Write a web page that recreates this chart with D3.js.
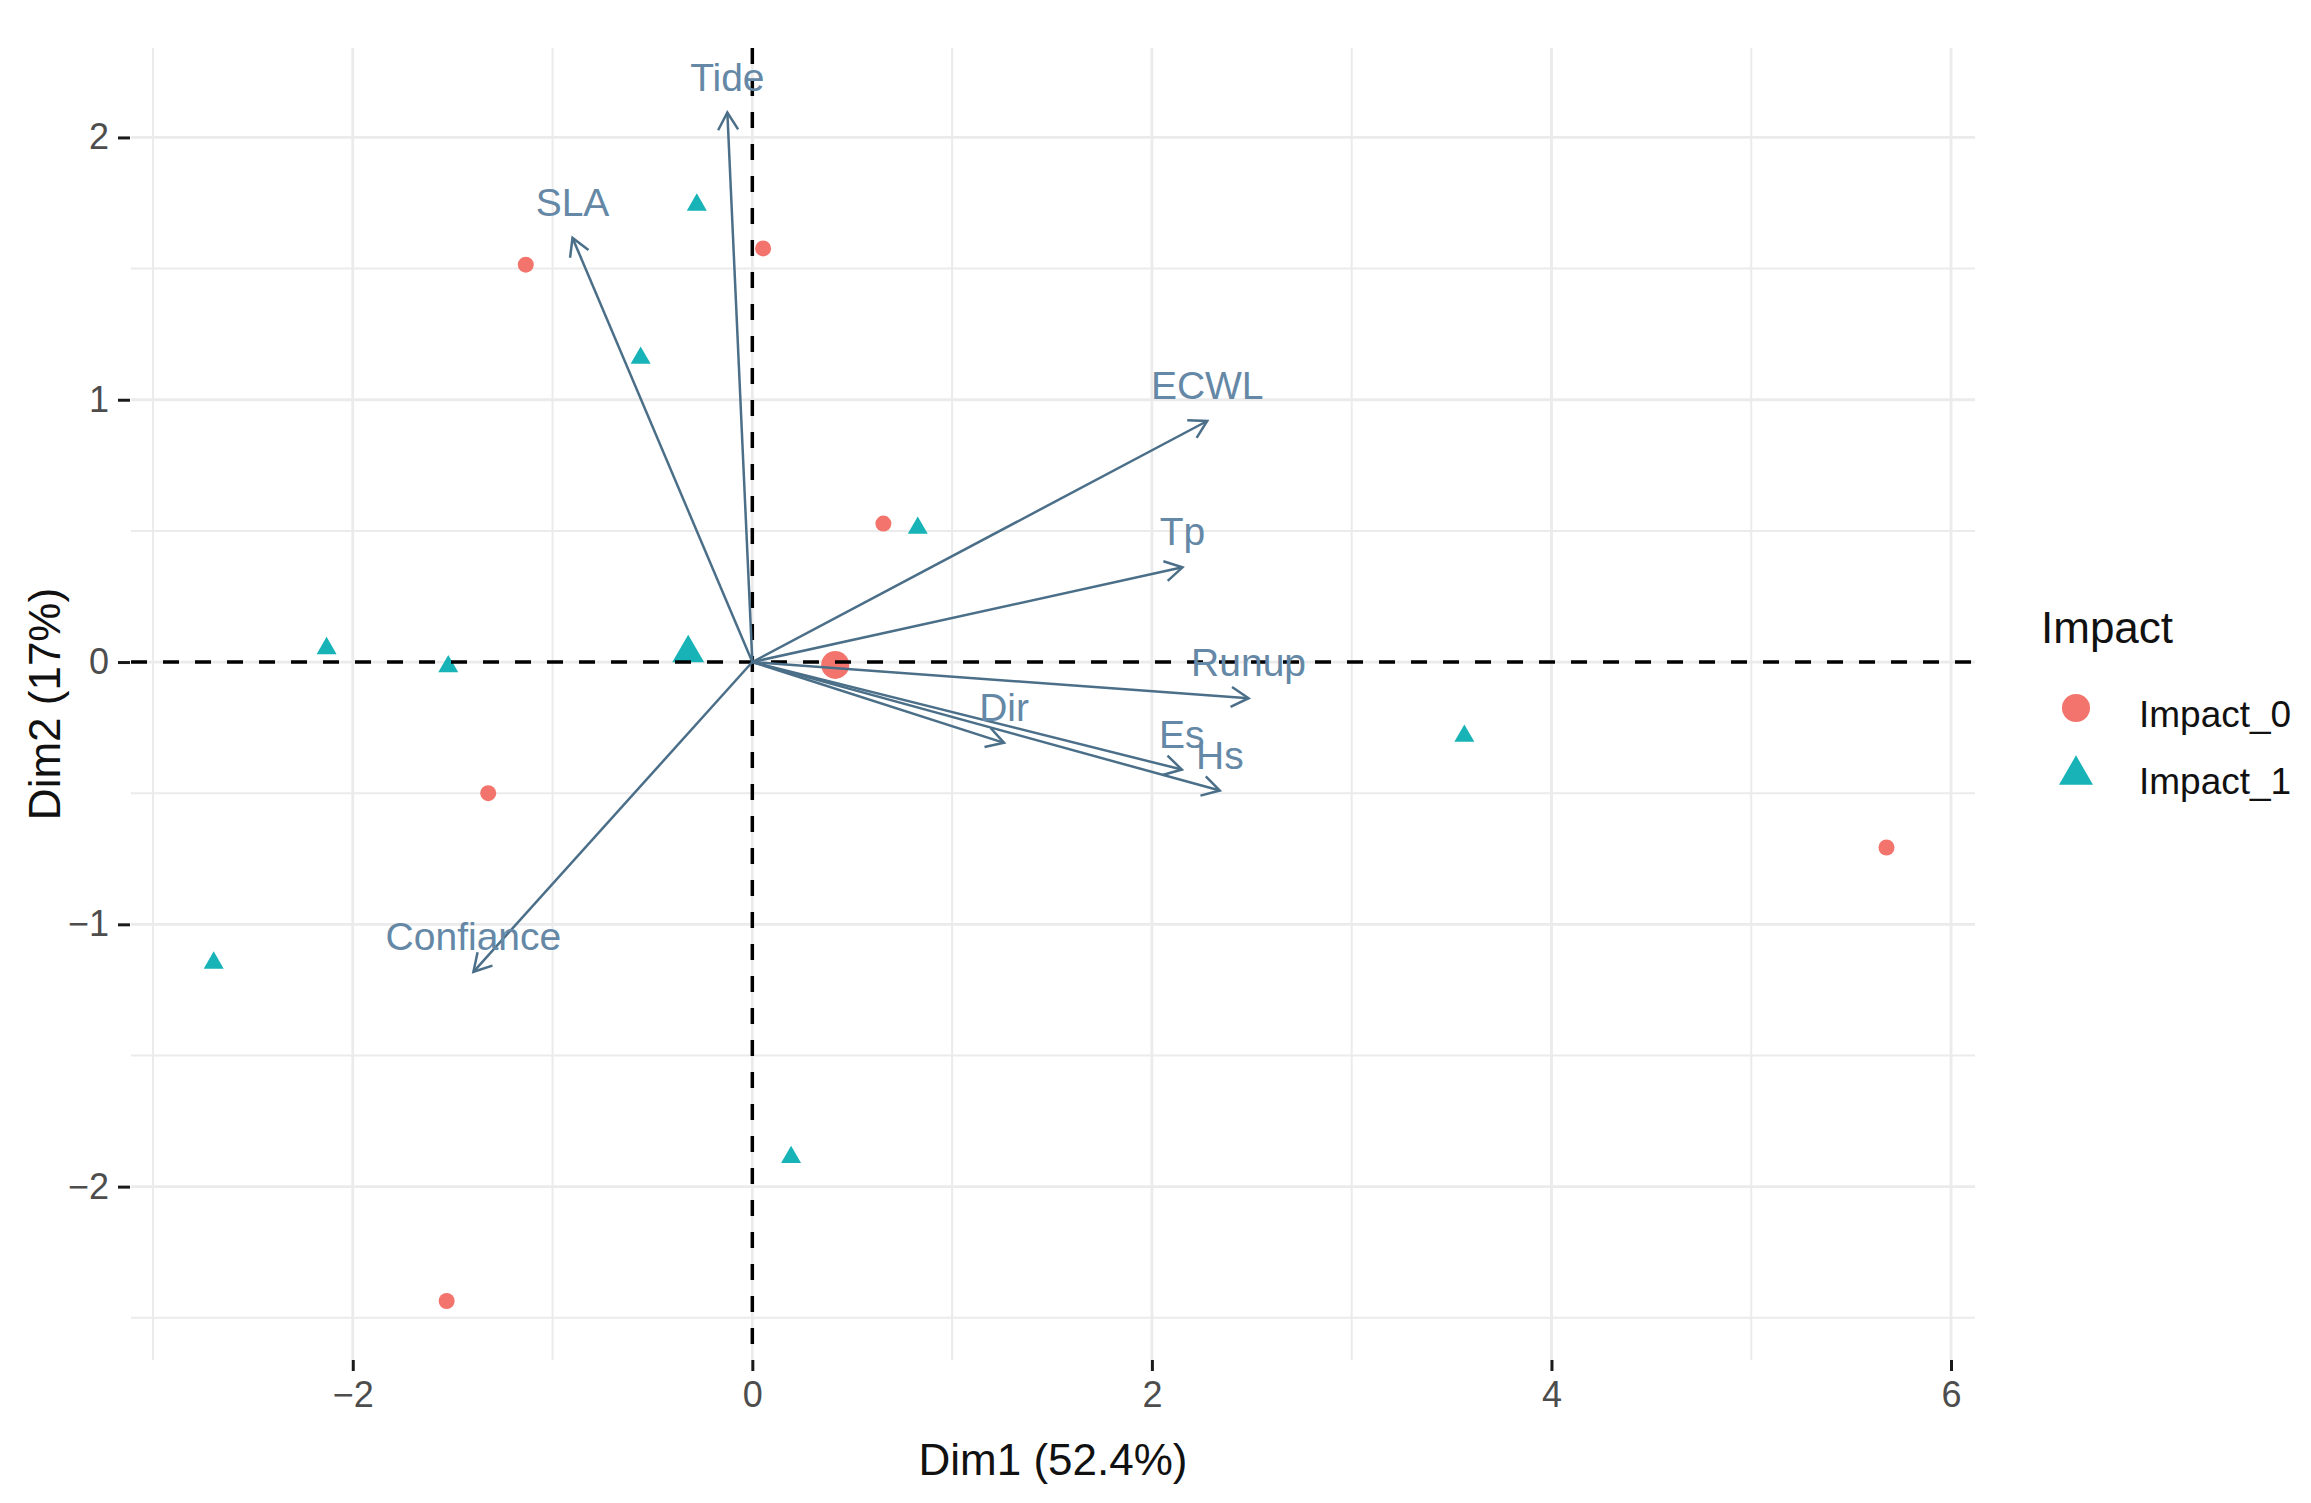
<!DOCTYPE html>
<html>
<head>
<meta charset="utf-8">
<script src="https://cdn.jsdelivr.net/npm/d3@7"></script>
<style>
  html, body { margin: 0; padding: 0; background: #ffffff; }
  svg { display: block; font-family: "Liberation Sans", Arial, sans-serif; }
</style>
</head>
<body>
<script>
// ---------------- data ----------------
const varNames = ["Tide", "SLA", "ECWL", "Tp", "Runup", "Dir", "Es", "Hs", "Confiance"];
const varDim1  = [-0.125, -0.900, 2.277, 2.153, 2.484, 1.260, 2.150, 2.340, -1.396];
const varDim2  = [ 2.095,  1.617, 0.919, 0.361, -0.138, -0.308, -0.410, -0.490, -1.181];

const impact0Dim1 = [-1.134, 0.054, 0.656, -1.322, -1.530, 5.677];
const impact0Dim2 = [ 1.515, 1.577, 0.528, -0.500, -2.436, -0.707];
const impact1Dim1 = [-0.278, -0.559, 0.828, -2.131, -1.522, -2.696, 0.194, 3.564];
const impact1Dim2 = [ 1.743,  1.159, 0.511,  0.052, -0.017, -1.147, -1.888, -0.282];

const groupNames = ["Impact_0", "Impact_1"];
const centroidDim1 = [0.415, -0.321];
const centroidDim2 = [-0.011, 0.034];

const xTicks = [-2, 0, 2, 4, 6];
const yTicks = [-2, -1, 0, 1, 2];
const xMinor = [-3, -1, 1, 3, 5];
const yMinor = [-2.5, -1.5, -0.5, 0.5, 1.5];

const xTitle = "Dim1 (52.4%)";
const yTitle = "Dim2 (17%)";
const legendTitle = "Impact";

// ---------------- layout ----------------
const W = 2311, H = 1503;
const P = { left: 131, right: 1975, top: 48, bottom: 1360 };
const groupColors = ["#F2746C", "#17B3B7"];
const arrowColor = "#4B6F88";
const labelColor = "#6488A6";

const svg = d3.select("body").append("svg")
  .attr("width", W).attr("height", H)
  .attr("viewBox", `0 0 ${W} ${H}`);
svg.append("rect").attr("width", W).attr("height", H).attr("fill", "#ffffff");

const x = d3.scaleLinear().domain([-3.11, 6.12]).range([P.left, P.right]);
const y = d3.scaleLinear().domain([-2.661, 2.341]).range([P.bottom, P.top]);

// ---------------- grid ----------------
const grid = svg.append("g");
grid.selectAll(".vmin").data(xMinor).join("line")
  .attr("x1", d => x(d)).attr("x2", d => x(d)).attr("y1", P.top).attr("y2", P.bottom)
  .attr("stroke", "#EBEBEB").attr("stroke-width", 2);
grid.selectAll(".hmin").data(yMinor).join("line")
  .attr("y1", d => y(d)).attr("y2", d => y(d)).attr("x1", P.left).attr("x2", P.right)
  .attr("stroke", "#EBEBEB").attr("stroke-width", 2);
grid.selectAll(".vmaj").data(xTicks).join("line")
  .attr("x1", d => x(d)).attr("x2", d => x(d)).attr("y1", P.top).attr("y2", P.bottom)
  .attr("stroke", "#EBEBEB").attr("stroke-width", 2.8);
grid.selectAll(".hmaj").data(yTicks).join("line")
  .attr("y1", d => y(d)).attr("y2", d => y(d)).attr("x1", P.left).attr("x2", P.right)
  .attr("stroke", "#EBEBEB").attr("stroke-width", 2.8);

// ---------------- axes ----------------
const fmt = d => (d < 0 ? "\u2212" + Math.abs(d) : String(d));
const xAxis = d3.axisBottom(x).tickValues(xTicks).tickSize(11).tickPadding(10).tickFormat(fmt);
const yAxis = d3.axisLeft(y).tickValues(yTicks).tickSize(12).tickPadding(9).tickFormat(fmt);

const gx = svg.append("g").attr("transform", `translate(0,${P.bottom})`).call(xAxis);
const gy = svg.append("g").attr("transform", `translate(${P.left - 1},0)`).call(yAxis);
[gx, gy].forEach(g => {
  g.select(".domain").remove();
  g.selectAll(".tick line").attr("stroke", "#1a1a1a").attr("stroke-width", 3);
  g.selectAll(".tick text").attr("fill", "#4D4D4D").attr("font-size", 36)
    .attr("font-family", "'Liberation Sans', Arial, sans-serif");
});

svg.append("text").attr("x", (P.left + P.right) / 2).attr("y", 1475)
  .attr("text-anchor", "middle").attr("font-size", 44).attr("fill", "#111")
  .text(xTitle);
svg.append("text").attr("transform", `translate(60,${(P.top + P.bottom) / 2}) rotate(-90)`)
  .attr("text-anchor", "middle").attr("font-size", 44).attr("fill", "#111")
  .text(yTitle);

// ---------------- points ----------------
const triPath = (side) => {
  const h = side * Math.sqrt(3) / 2;
  return `M0,${-2 * h / 3}L${side / 2},${h / 3}L${-side / 2},${h / 3}Z`;
};
const circlePath = d3.symbol().type(d3.symbolCircle);

const pts = svg.append("g");
const g0 = impact0Dim1.map((v, i) => ({ x: v, y: impact0Dim2[i] }));
const g1 = impact1Dim1.map((v, i) => ({ x: v, y: impact1Dim2[i] }));

pts.selectAll(".p0").data(g0).join("path")
  .attr("transform", d => `translate(${x(d.x)},${y(d.y)})`)
  .attr("d", circlePath.size(Math.PI * 8 * 8)())
  .attr("fill", groupColors[0]);
pts.selectAll(".p1").data(g1).join("path")
  .attr("transform", d => `translate(${x(d.x)},${y(d.y)})`)
  .attr("d", triPath(20))
  .attr("fill", groupColors[1]);

// centroids (mean points)
const cents = groupNames.map((g, i) => ({ g: i, x: centroidDim1[i], y: centroidDim2[i] }));
pts.selectAll(".c").data(cents).join("path")
  .attr("transform", d => `translate(${x(d.x)},${y(d.y)})`)
  .attr("d", d => d.g === 0 ? circlePath.size(Math.PI * 14 * 14)() : triPath(32))
  .attr("fill", d => groupColors[d.g]);

// ---------------- reference dashed lines ----------------
svg.append("line").attr("x1", x(0)).attr("x2", x(0)).attr("y1", P.top).attr("y2", P.bottom)
  .attr("stroke", "#000").attr("stroke-width", 3.5).attr("stroke-dasharray", "16,16");
svg.append("line").attr("y1", y(0)).attr("y2", y(0)).attr("x1", P.left).attr("x2", P.right)
  .attr("stroke", "#000").attr("stroke-width", 3.5).attr("stroke-dasharray", "16,16");

// ---------------- variable arrows ----------------
const vars = varNames.map((n, i) => ({ name: n, x: varDim1[i], y: varDim2[i] }));
const arr = svg.append("g");
const headLen = 20, headAng = Math.PI / 6;
arr.selectAll(".shaft").data(vars).join("line")
  .attr("x1", x(0)).attr("y1", y(0))
  .attr("x2", d => x(d.x)).attr("y2", d => y(d.y))
  .attr("stroke", arrowColor).attr("stroke-width", 2.5);
arr.selectAll(".head").data(vars).join("path")
  .attr("d", d => {
    const tx = x(d.x), ty = y(d.y);
    const a = Math.atan2(ty - y(0), tx - x(0));
    const p1 = [tx - headLen * Math.cos(a - headAng), ty - headLen * Math.sin(a - headAng)];
    const p2 = [tx - headLen * Math.cos(a + headAng), ty - headLen * Math.sin(a + headAng)];
    return `M${p1[0]},${p1[1]}L${tx},${ty}L${p2[0]},${p2[1]}`;
  })
  .attr("fill", "none").attr("stroke", arrowColor).attr("stroke-width", 2.5)
  .attr("stroke-linejoin", "miter");
arr.selectAll(".lab").data(vars).join("text")
  .attr("x", d => x(d.x)).attr("y", d => y(d.y) - 22)
  .attr("text-anchor", "middle").attr("font-size", 39).attr("fill", labelColor)
  .text(d => d.name);

// ---------------- legend ----------------
const leg = svg.append("g");
leg.append("text").attr("x", 2041).attr("y", 643).attr("font-size", 44).attr("fill", "#111")
  .text(legendTitle);
const legItems = groupNames.map((g, i) => ({ g: i, name: g }));
const legY = [708, 775];
leg.selectAll(".lk").data(legItems).join("path")
  .attr("transform", d => `translate(2076,${legY[d.g]})`)
  .attr("d", d => d.g === 0 ? circlePath.size(Math.PI * 14 * 14)() : triPath(34))
  .attr("fill", d => groupColors[d.g]);
leg.selectAll(".lt").data(legItems).join("text")
  .attr("x", 2139).attr("y", d => legY[d.g] + 19)
  .attr("font-size", 37).attr("fill", "#111")
  .text(d => d.name);
</script>
</body>
</html>
